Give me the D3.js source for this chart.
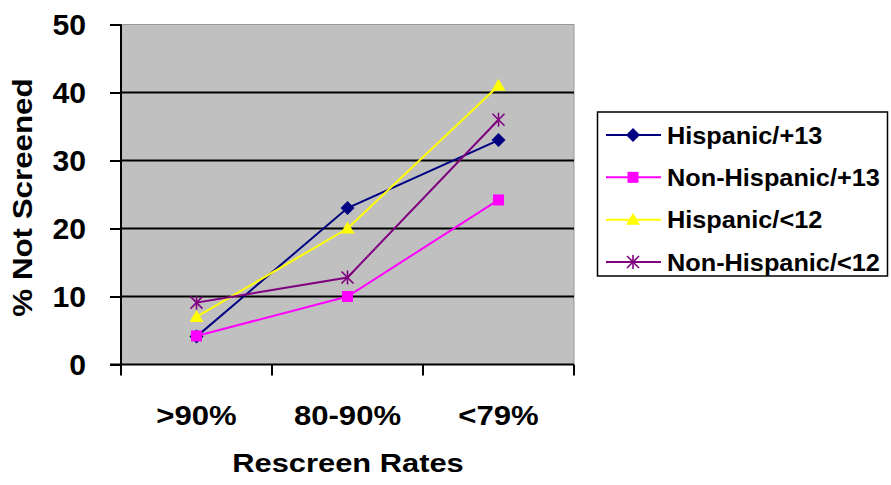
<!DOCTYPE html>
<html>
<head>
<meta charset="utf-8">
<script src="https://cdn.jsdelivr.net/npm/d3@7"></script>
<style>
  body { margin: 0; background: #fff; }
  svg text { font-family: "Liberation Sans", Arial, sans-serif; font-weight: bold; fill: #000; }
</style>
</head>
<body>
<svg id="chart" width="891" height="485"></svg>
<script>
// data
var categories = [">90%", "80-90%", "<79%"];
var seriesNames = ["Hispanic/+13", "Non-Hispanic/+13", "Hispanic/<12", "Non-Hispanic/<12"];
var hispanic13 = [4.1, 23, 33];
var nonHispanic13 = [4.2, 10, 24.2];
var hispanic12 = [7, 20, 41];
var nonHispanic12 = [9.1, 12.8, 36];
var yTicks = [0, 10, 20, 30, 40, 50];

var seriesValues = [hispanic13, nonHispanic13, hispanic12, nonHispanic12];
var colors = ["#000080", "#FF00FF", "#FFFF00", "#800080"];
var markers = ["diamond", "square", "triangle", "star"];

var svg = d3.select("#chart");

var plot = {left: 121, right: 574, top: 24.5, bottom: 364.5};

var x = d3.scaleBand()
    .domain(categories)
    .range([plot.left, plot.right])
    .padding(0);

var y = d3.scaleLinear()
    .domain([0, 50])
    .range([plot.bottom, plot.top]);

// text helper, the original fonts look stretched sideways
function label(g, txt, px, py, size, sx, anchor, rot) {
    var t = "translate(" + px + "," + py + ")" + (rot ? " rotate(" + rot + ")" : "") + " scale(" + sx + ",1)";
    return g.append("text")
        .attr("transform", t)
        .attr("text-anchor", anchor)
        .style("font-size", size + "px")
        .text(txt);
}

// plot background
svg.append("rect")
    .attr("x", plot.left)
    .attr("y", plot.top)
    .attr("width", plot.right - plot.left)
    .attr("height", plot.bottom - plot.top)
    .attr("fill", "#C0C0C0")
    .attr("stroke", "#999")
    .attr("stroke-width", 1);

// gridlines
svg.append("g")
    .selectAll("line")
    .data(yTicks.filter(function(d){ return d > 0 && d < 50; }))
    .join("line")
    .attr("x1", plot.left)
    .attr("x2", plot.right)
    .attr("y1", function(d){ return y(d); })
    .attr("y2", function(d){ return y(d); })
    .attr("stroke", "#000")
    .attr("stroke-width", 2);

// y axis
var yAxis = svg.append("g")
    .attr("transform", "translate(" + plot.left + ",0)")
    .call(d3.axisLeft(y).tickValues(yTicks).tickSize(11).tickFormat(""));
yAxis.selectAll("path, line").attr("stroke", "#000").attr("stroke-width", 2);
yAxis.select(".domain").attr("d", "M0," + plot.top + "V" + plot.bottom);

yTicks.forEach(function(d){
    label(svg, d, 86, y(d) + 10.5, 29, 1.04, "end");
});

// x axis, ticks sit on band edges
var xAxis = svg.append("g")
    .attr("transform", "translate(0," + plot.bottom + ")");
xAxis.append("line")
    .attr("x1", plot.left - 11)
    .attr("x2", plot.right)
    .attr("stroke", "#000")
    .attr("stroke-width", 2);
var edges = categories.map(function(c){ return x(c); }).concat([x(categories[2]) + x.bandwidth()]);
xAxis.selectAll(".tk")
    .data(edges)
    .join("line")
    .attr("class", "tk")
    .attr("x1", function(d){ return d; })
    .attr("x2", function(d){ return d; })
    .attr("y1", 0)
    .attr("y2", 11)
    .attr("stroke", "#000")
    .attr("stroke-width", 2);

categories.forEach(function(c){
    label(svg, c, x(c) + x.bandwidth() / 2, 425, 28, 1.11, "middle");
});

// axis titles
label(svg, "Rescreen Rates", 348, 472, 25.5, 1.21, "middle");
label(svg, "% Not Screened", 32, 197.5, 27, 1.16, "middle", -90);

// markers
function drawMarker(g, type, color, cx, cy) {
    if (type === "diamond") {
        var r = 7;
        g.append("path")
            .attr("d", "M0," + (-r) + "L" + r + ",0L0," + r + "L" + (-r) + ",0Z")
            .attr("transform", "translate(" + cx + "," + cy + ")")
            .attr("fill", color);
    } else if (type === "square") {
        g.append("rect")
            .attr("x", cx - 5.5).attr("y", cy - 5.5)
            .attr("width", 11).attr("height", 11)
            .attr("fill", color);
    } else if (type === "triangle") {
        g.append("path")
            .attr("d", "M0,-7L7,5L-7,5Z")
            .attr("transform", "translate(" + cx + "," + cy + ")")
            .attr("fill", color);
    } else {
        var q = 6;
        var s = g.append("g").attr("transform", "translate(" + cx + "," + cy + ")")
            .attr("stroke", color).attr("stroke-width", 1.6);
        s.append("line").attr("x1", -q).attr("y1", -q).attr("x2", q).attr("y2", q);
        s.append("line").attr("x1", -q).attr("y1", q).attr("x2", q).attr("y2", -q);
        s.append("line").attr("x1", 0).attr("y1", -q - 1).attr("x2", 0).attr("y2", q + 1);
    }
}

var line = d3.line()
    .x(function(d, i){ return x(categories[i]) + x.bandwidth() / 2; })
    .y(function(d){ return y(d); });

seriesValues.forEach(function(vals, s){
    var g = svg.append("g");
    g.append("path")
        .attr("d", line(vals))
        .attr("fill", "none")
        .attr("stroke", colors[s])
        .attr("stroke-width", 2);
    vals.forEach(function(v, i){
        drawMarker(g, markers[s], colors[s], x(categories[i]) + x.bandwidth() / 2, y(v));
    });
});

// legend
var legend = svg.append("g");
legend.append("rect")
    .attr("x", 597.5)
    .attr("y", 112)
    .attr("width", 290)
    .attr("height", 164)
    .attr("fill", "#fff")
    .attr("stroke", "#000")
    .attr("stroke-width", 1.5);

var legendY = d3.scalePoint()
    .domain(seriesNames)
    .range([135, 262]);

seriesNames.forEach(function(name, s){
    var ly = legendY(name);
    legend.append("line")
        .attr("x1", 606).attr("x2", 661)
        .attr("y1", ly).attr("y2", ly)
        .attr("stroke", colors[s])
        .attr("stroke-width", 2);
    drawMarker(legend, markers[s], colors[s], 633, ly);
    label(legend, name, 667, ly + 8.5, 23, 1.1, "start");
});
</script>
</body>
</html>
